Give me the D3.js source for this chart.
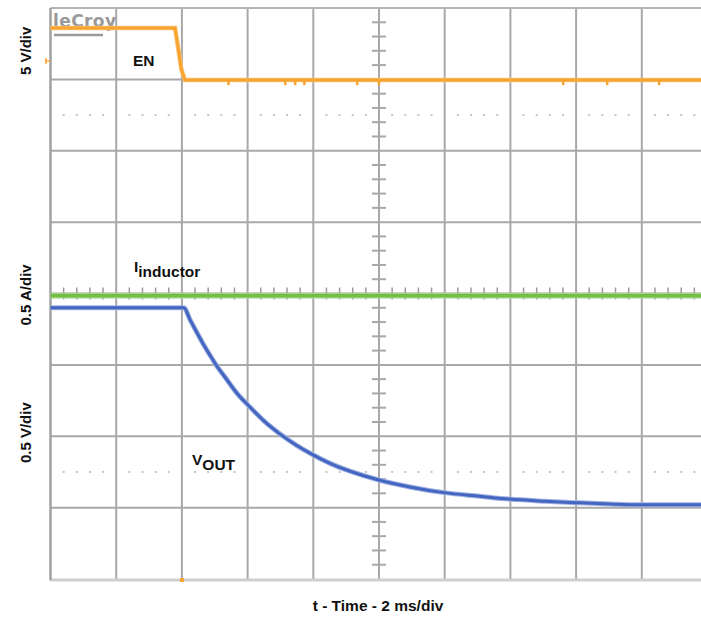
<!DOCTYPE html>
<html><head><meta charset="utf-8">
<script src="https://cdn.jsdelivr.net/npm/d3@7"></script>
<style>
html,body{margin:0;padding:0;background:#fff;}
svg{display:block;font-family:"Liberation Sans",Arial,sans-serif;}
</style></head>
<body>
<script>
// ---- data (time in ms, level in screen divisions from centre) ----
const timeDomain = [0, 20];           // 10 div x 2 ms/div
const divDomain = [-4, 4];            // 8 vertical divisions
const enTime  = [0, 3.79, 3.90, 3.98, 4.09, 20];
const enLevel = [3.72, 3.72, 3.40, 3.15, 2.99, 2.99];
const enGlitchTimes = [5.41, 7.14, 7.44, 7.72, 9.33, 9.99, 15.6, 16.94, 18.52];
const iTime  = [0, 20];
const iLevel = [-0.03, -0.03];
const vTime  = [0, 2.12, 4.06, 4.25, 4.46, 4.64, 4.85, 5.07, 5.31, 5.68, 6.07, 6.53, 6.99, 7.50, 7.99, 8.51, 9.12, 9.97, 10.94, 11.98, 13.07, 13.96, 15.05, 15.97, 17.03, 17.97, 19.80, 20];
const vLevel = [-0.20, -0.20, -0.20, -0.37, -0.55, -0.70, -0.86, -1.02, -1.17, -1.40, -1.59, -1.80, -1.97, -2.13, -2.26, -2.38, -2.49, -2.61, -2.71, -2.79, -2.84, -2.88, -2.91, -2.93, -2.95, -2.96, -2.96, -2.96];
const channelLabels = ["5 V/div", "0.5 A/div", "0.5 V/div"];
const channelLabelDiv = [3.4, -0.02, -1.95];
const xTitle = "t - Time - 2 ms/div";

const W = 701, H = 617;
const svg = d3.select("body").append("svg").attr("width", W).attr("height", H);
const x = d3.scaleLinear().domain(timeDomain).range([50.5, 707.5]);
const y = d3.scaleLinear().domain(divDomain).range([579, 8]);

const grid = svg.append("g");
const gridColor = "#a8a8a8";
d3.range(1, 10).forEach(i => {
  grid.append("line").attr("x1", x(i*2)).attr("x2", x(i*2)).attr("y1", y(4)).attr("y2", y(-4))
    .attr("stroke", gridColor).attr("stroke-width", 2);
});
d3.range(-3, 4).forEach(j => {
  grid.append("line").attr("x1", x(0)).attr("x2", x(20)).attr("y1", y(j)).attr("y2", y(j))
    .attr("stroke", gridColor).attr("stroke-width", 2);
});
grid.append("line").attr("x1", x(0)).attr("x2", x(20)).attr("y1", y(4)).attr("y2", y(4)).attr("stroke", "#b4b4b4").attr("stroke-width", 2);
grid.append("line").attr("x1", x(0)-1).attr("x2", x(20)).attr("y1", y(-4)+1).attr("y2", y(-4)+1).attr("stroke", "#cfcfcf").attr("stroke-width", 3);
grid.append("line").attr("x1", x(0)).attr("x2", x(0)).attr("y1", y(4)).attr("y2", y(-4)+1).attr("stroke", "#a0a0a0").attr("stroke-width", 2.5);
[2.5, -2.5].forEach(d => {
  d3.range(0, 50).filter(k => k % 5 !== 0).forEach(k => {
    grid.append("rect").attr("x", x(k*0.4)-1).attr("y", y(d)-1).attr("width", 2).attr("height", 2).attr("fill", "#c4c4c4");
  });
});
d3.range(-20, 21).filter(k => k % 5 !== 0).forEach(k => {
  grid.append("line").attr("x1", x(10)-7).attr("x2", x(10)+7).attr("y1", y(k*0.2)).attr("y2", y(k*0.2))
    .attr("stroke", gridColor).attr("stroke-width", 2);
});
d3.range(1, 50).filter(k => k % 5 !== 0).forEach(k => {
  grid.append("line").attr("x1", x(k*0.4)).attr("x2", x(k*0.4)).attr("y1", y(0)-6).attr("y2", y(0)+6)
    .attr("stroke", "#9a9a9a").attr("stroke-width", 1.5);
});

// LeCroy logo
svg.append("text").attr("x", 53).attr("y", 27).attr("font-size", 17).attr("font-weight", "bold").attr("fill", "#999")
  .attr("font-family", "'DejaVu Sans', sans-serif").attr("textLength", 63).text("leCroy");
svg.append("line").attr("x1", 54).attr("x2", 103).attr("y1", 35).attr("y2", 35).attr("stroke", "#9a9a9a").attr("stroke-width", 2.5);

const line = d3.line().x(d => x(d[0])).y(d => y(d[1]));
const enData = d3.zip(enTime, enLevel);
const iData = d3.zip(iTime, iLevel);
const vData = d3.zip(vTime, vLevel);
const lineSmooth = d3.line().x(d => x(d[0])).y(d => y(d[1])).curve(d3.curveMonotoneX);

svg.append("path").attr("d", line(iData)).attr("fill", "none").attr("stroke", "#a9d98c").attr("stroke-width", 6).attr("opacity", 0.8);
svg.append("path").attr("d", line(iData)).attr("fill", "none").attr("stroke", "#72bf44").attr("stroke-width", 3.5);

svg.append("path").attr("d", lineSmooth(vData)).attr("fill", "none").attr("stroke", "#9fb2e2").attr("stroke-width", 5);
svg.append("path").attr("d", lineSmooth(vData)).attr("fill", "none").attr("stroke", "#4466c0").attr("stroke-width", 3);

svg.append("path").attr("d", line(enData)).attr("fill", "none").attr("stroke", "#fbc57a").attr("stroke-width", 4.5);
svg.append("path").attr("d", line(enData)).attr("fill", "none").attr("stroke", "#f7a430").attr("stroke-width", 3);
enGlitchTimes.forEach(t => {
  svg.append("rect").attr("x", x(t)-1).attr("y", y(2.99)).attr("width", 2.5).attr("height", 5).attr("fill", "#f7a430");
});
svg.append("line").attr("x1", 45).attr("x2", 50).attr("y1", 61).attr("y2", 61).attr("stroke", "#f7a430").attr("stroke-width", 1.5);
svg.append("line").attr("x1", 46).attr("x2", 46).attr("y1", 58).attr("y2", 64).attr("stroke", "#f7a430").attr("stroke-width", 1.5);
svg.append("rect").attr("x", x(4)-2).attr("y", 578).attr("width", 4).attr("height", 4).attr("fill", "#f7a430");

// labels
svg.append("text").attr("x", 133).attr("y", 66).attr("font-size", 15.5).attr("font-weight", "bold").attr("fill", "#111").text("EN");
const il = svg.append("text").attr("x", 134).attr("y", 272).attr("font-size", 15.5).attr("font-weight", "bold").attr("fill", "#111");
il.append("tspan").text("I");
il.append("tspan").attr("dy", 5).text("inductor");
const vl = svg.append("text").attr("x", 192).attr("y", 465).attr("font-size", 15.5).attr("font-weight", "bold").attr("fill", "#111");
vl.append("tspan").text("V");
vl.append("tspan").attr("dy", 5).text("OUT");

channelLabels.forEach((t, i) => {
  svg.append("text").attr("transform", `translate(31,${y(channelLabelDiv[i])}) rotate(-90)`)
    .attr("text-anchor", "middle").attr("font-size", 15).attr("font-weight", "bold").attr("fill", "#111").text(t);
});
svg.append("text").attr("x", 378).attr("y", 611).attr("text-anchor", "middle").attr("font-size", 15.5)
  .attr("font-weight", "bold").attr("fill", "#111").text(xTitle);
</script>
</body></html>
